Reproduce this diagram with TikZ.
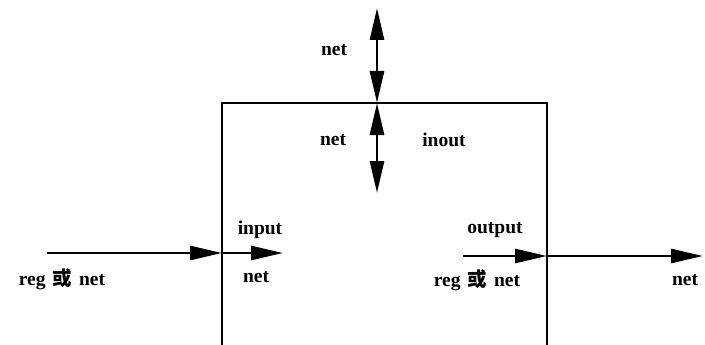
\documentclass[tikz,border=0pt]{standalone}
\usepackage{fontspec}
\setmainfont{Liberation Serif}
\newfontfamily\cjk{Noto Sans CJK SC}
\usetikzlibrary{arrows.meta}
\tikzstyle{connector} = [line width=2.8pt]
\tikzstyle{flow} = [connector, -{Triangle[length=32pt,width=14pt]}]
\tikzstyle{both} = [connector, {Triangle[length=32pt,width=14pt]}-{Triangle[length=32pt,width=14pt]}]
\tikzstyle{lbl} = [inner sep=0pt, font=\fontsize{19.5}{22}\selectfont\bfseries]
\newcommand{\huo}{\hspace{7pt}{\cjk 或}\hspace{7pt}}

\begin{document}
\begin{tikzpicture}[x=1pt, y=-1pt]
                \useasboundingbox (0,0) rectangle (705,345);

                % module outline, open at the bottom
                \coordinate (bl) at (222,345);
                \coordinate (tl) at (222,103);
                \coordinate (tr) at (547,103);
                \coordinate (br) at (547,345);
                \draw [connector] (bl) -- (tl) -- (tr) -- (br);

                % ports
                \coordinate (iosrc) at (377,8);
                \coordinate (io) at (377,103);
                \coordinate (iodst) at (377,193);
                \coordinate (insrc) at (47,253);
                \coordinate (in) at (222,253);
                \coordinate (indst) at (283,253);
                \coordinate (outsrc) at (463,256);
                \coordinate (out) at (547,256);
                \coordinate (outdst) at (703,256);

                \draw [both] (iosrc) -- (io);
                \draw [both] (io) -- (iodst);
                \draw [flow] (insrc) -- (in);
                \draw [flow] (in) -- (indst);
                \draw [flow] (outsrc) -- (out);
                \draw [flow] (out) -- (outdst);

                % labels
                \node (ionet1) [lbl] at (334,50) {net};
                \node (ionet2) [lbl] at (333,140) {net};
                \node (iolbl) [lbl] at (444,140) {inout};
                \node (inlbl) [lbl] at (260,230) {input};
                \node (innet) [lbl] at (256,277) {net};
                \node (insig) [lbl] at (62,279) {reg\huo net};
                \node (outlbl) [lbl] at (495,230) {output};
                \node (outsig) [lbl] at (477,280) {reg\huo net};
                \node (outnet) [lbl] at (685,280) {net};
            \end{tikzpicture}
\end{document}
